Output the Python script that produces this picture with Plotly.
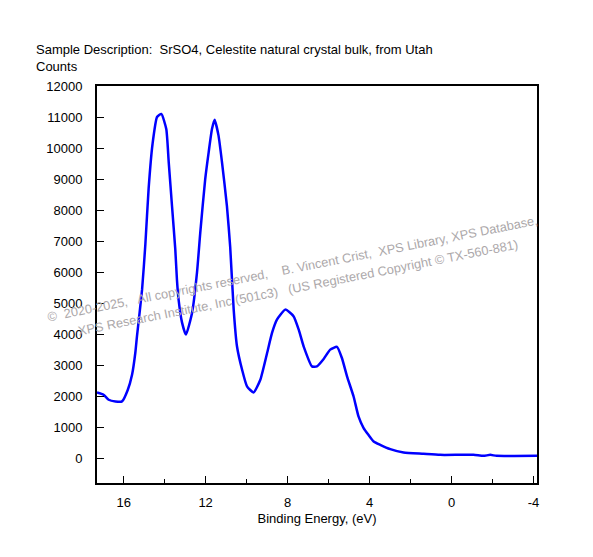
import plotly.graph_objects as go

# spectre de valence SrSO4
energie = [17.3, 16.98, 16.73, 16.4, 16.08, 15.8, 15.59, 15.43, 15.35, 15.1, 14.94,
           14.78, 14.59, 14.37, 14.16, 13.92, 13.8, 13.64, 13.48, 13.4, 13.32, 13.15,
           12.96, 12.66, 12.42, 12.26, 12.02, 11.85, 11.69, 11.56, 11.37, 11.2, 10.96, 10.8,
           10.63, 10.47, 10.22, 9.98, 9.66, 9.33, 9.0, 8.76, 8.52, 8.11, 7.71, 7.46, 7.22,
           6.81, 6.57, 6.24, 5.92, 5.59, 5.35, 5.1, 4.78, 4.54, 4.29, 4.05, 3.8, 3.48, 2.99,
           2.34, 1.37, 0.56, -1.07, -1.56, -1.89, -2.2, -4.17]
coups = [2120, 2045, 1885, 1830, 1830, 2200, 2690, 3400, 3930, 5440, 6900,
         8700, 10130, 11000, 11100, 10610, 9540, 8130, 6730, 5760, 5120, 4370,
         3985, 4690, 5990, 7280, 9000, 9870, 10610, 10910, 10400, 9540, 8130, 6800,
         4790, 3610, 2850, 2315, 2120, 2530, 3390, 4040, 4470, 4790, 4580, 4150, 3610,
         2960, 2960, 3200, 3500, 3590, 3230, 2640, 1990, 1345, 970, 750, 540, 430, 290,
         180, 140, 107, 107, 75, 107, 75, 75]

ticks_x = [16, 12, 8, 4, 0, -4]
labels_x = ["16", "12", "8", "4", "0", "-4"]
ticks_y = list(range(0, 12001, 1000))

titre = "Sample Description:  SrSO4, Celestite natural crystal bulk, from Utah"
filigrane1 = "©  2020-2025,   All copyrights reserved,    B. Vincent Crist,  XPS Library, XPS Database,"
filigrane2 = "XPS Research Institute, Inc (501c3)   (US Registered Copyright © TX-560-881)"

fig = go.Figure()
fig.add_trace(go.Scatter(x=energie, y=coups, mode="lines",
                         line=dict(color="#0000ff", width=2.5, shape="spline", smoothing=0.5),
                         hoverinfo="skip"))

police = "Liberation Sans, Arial, sans-serif"

fig.update_layout(
    width=593, height=557,
    margin=dict(l=89, r=64, t=78, b=82, autoexpand=False),
    plot_bgcolor="white", paper_bgcolor="white",
    showlegend=False,
    font=dict(family=police, size=12, color="black"),
    xaxis=dict(range=[17.3, -4.17], tickvals=ticks_x, ticktext=labels_x,
               ticks="inside", ticklen=7, tickwidth=1, tickcolor="black",
               minor=dict(tickvals=[14, 10, 6, 2, -2], ticks="inside", ticklen=4, tickcolor="black"),
               showline=True, linecolor="black", linewidth=2, mirror=True,
               showgrid=False, zeroline=False, ticklabelstandoff=6, automargin=False,
               tickfont=dict(size=13),
               title=dict(text="Binding Energy, (eV)", font=dict(size=13), standoff=5)),
    yaxis=dict(range=[-800, 12000], tickvals=ticks_y, tickformat="d",
               ticks="inside", ticklen=7, tickwidth=1, tickcolor="black",
               showline=True, linecolor="black", linewidth=2, mirror=True,
               showgrid=False, zeroline=False, ticklabelstandoff=10, automargin=False,
               tickfont=dict(size=13)),
)

fig.add_annotation(text=titre, xref="paper", yref="paper", x=-0.143, y=1.068,
                   xanchor="left", yanchor="bottom", showarrow=False, font=dict(size=13))
fig.add_annotation(text="Counts", xref="paper", yref="paper", x=-0.143, y=1.025,
                   xanchor="left", yanchor="bottom", showarrow=False, font=dict(size=13))

gris = "rgb(172,168,170)"
fig.add_annotation(text=filigrane1, xref="paper", yref="paper", x=0.445, y=0.54,
                   showarrow=False, textangle=-11.2, font=dict(size=12.8, color=gris))
fig.add_annotation(text=filigrane2, xref="paper", yref="paper", x=0.457, y=0.492,
                   showarrow=False, textangle=-11.2, font=dict(size=12.8, color=gris))

fig.write_html("out.html")
